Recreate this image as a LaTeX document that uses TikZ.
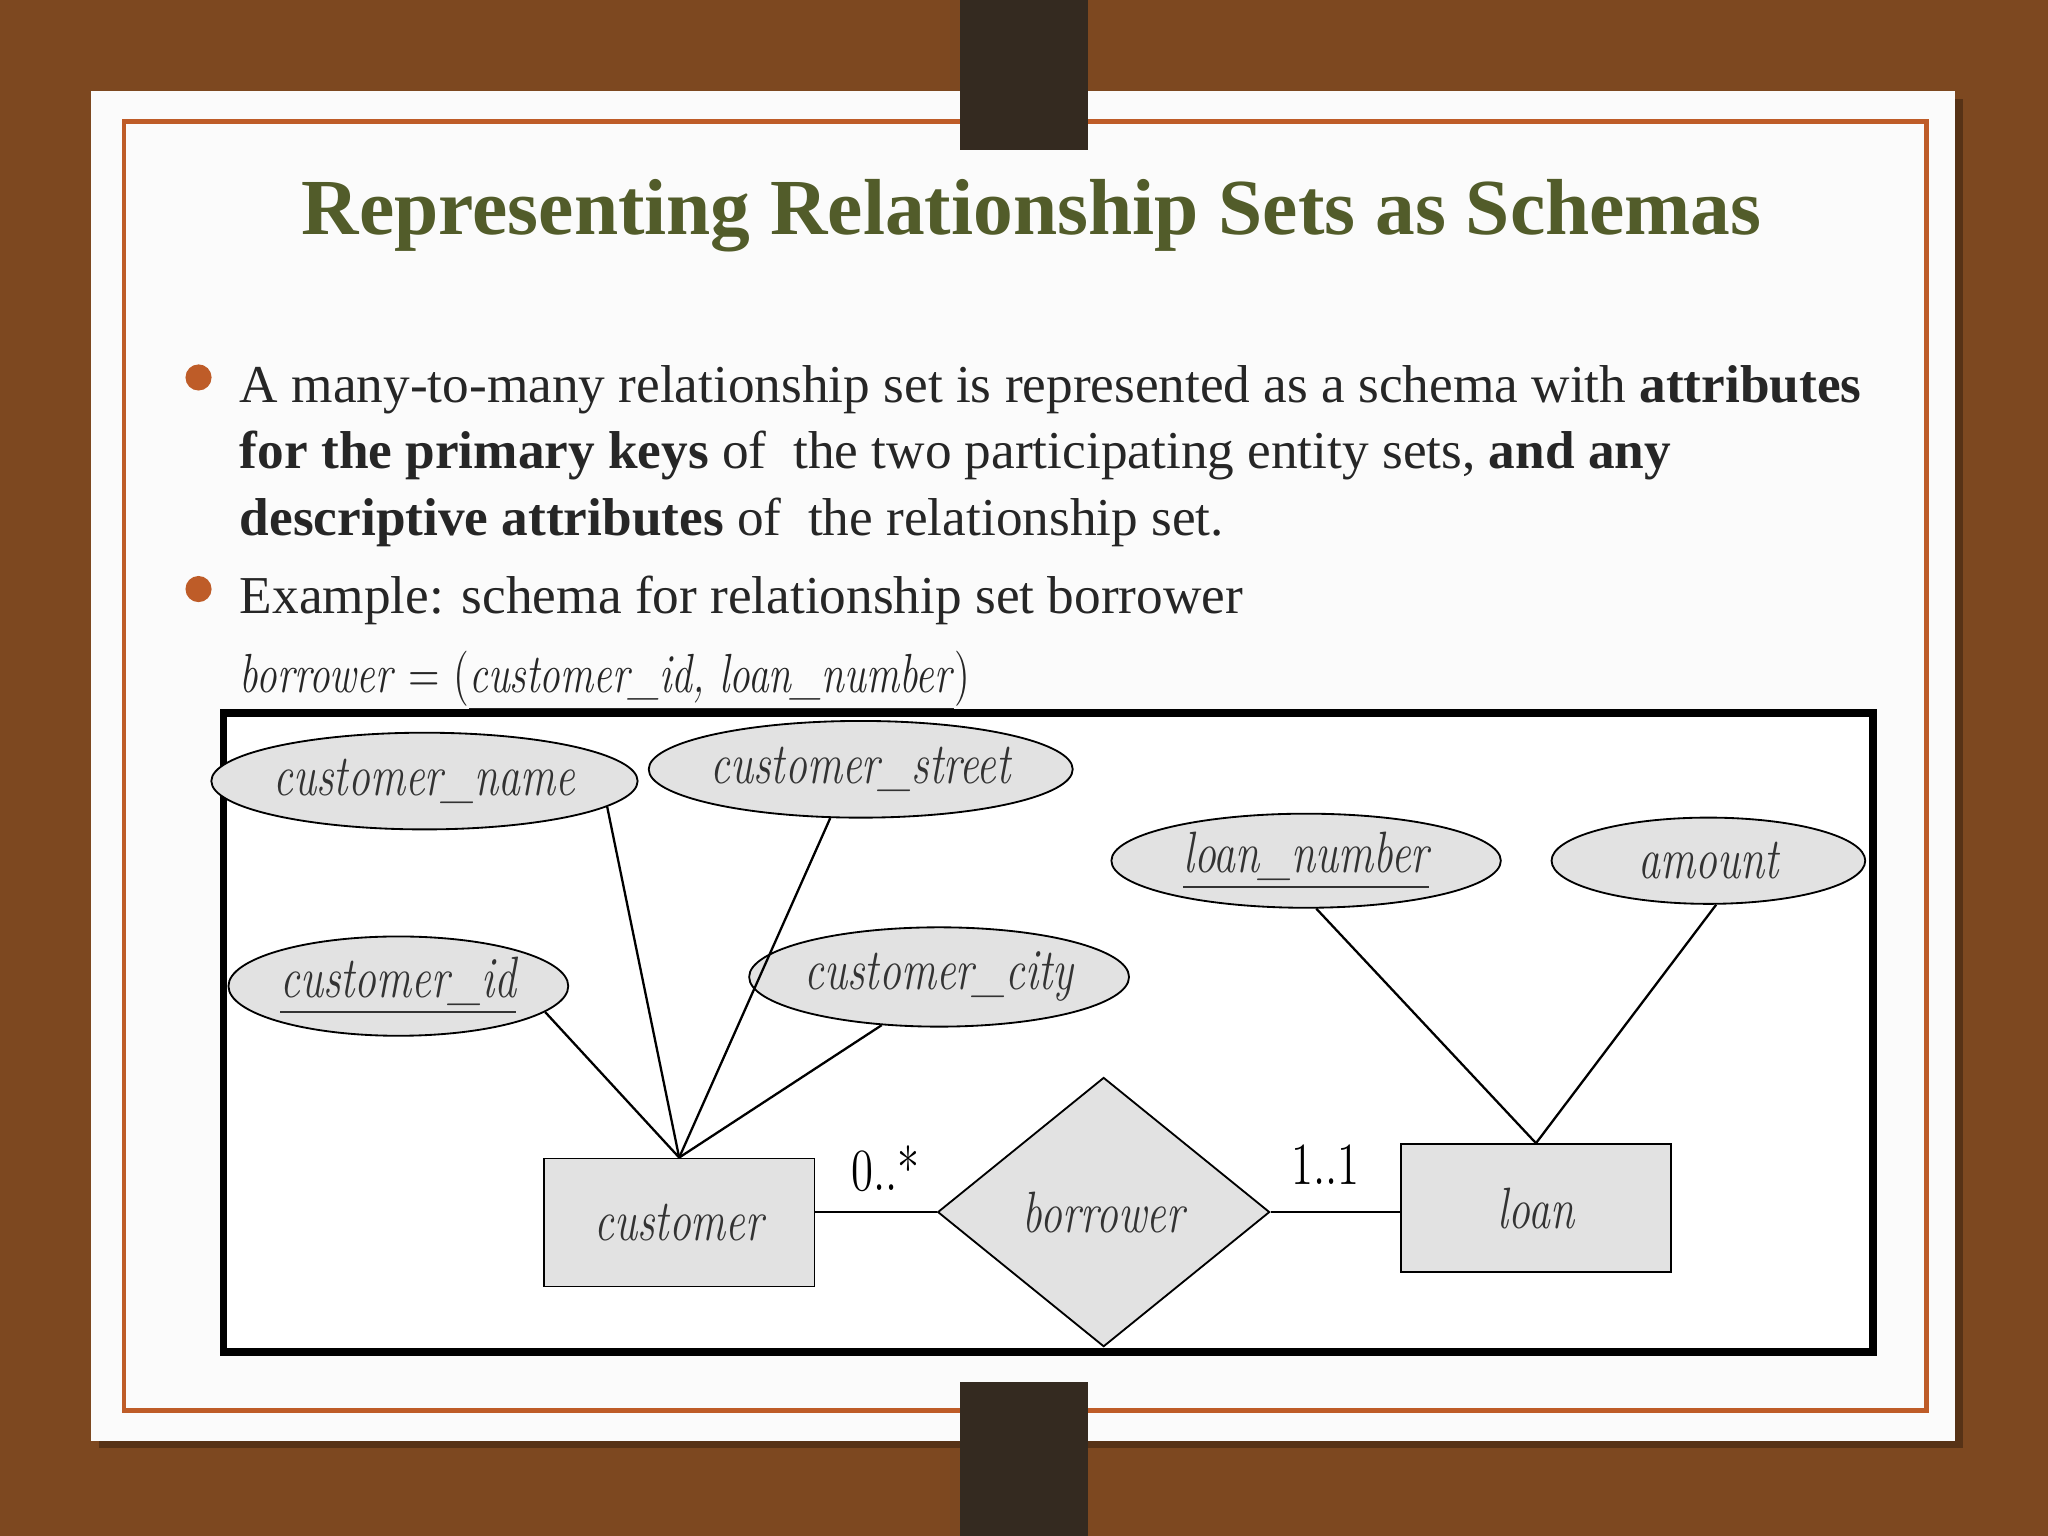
\documentclass[tikz,border=0pt]{standalone}
\usepackage{fontspec}
\setmainfont{Liberation Serif}
\usetikzlibrary{shapes.geometric}
\newfontfamily\lmcond[FakeStretch=0.75]{Latin Modern Roman}
\definecolor{wood}{RGB}{125,72,32}
\definecolor{clipcol}{RGB}{52,42,32}
\definecolor{olive}{RGB}{82,92,42}
\definecolor{rust}{RGB}{190,92,40}
\definecolor{ergray}{RGB}{226,226,226}
\tikzset{
 erfont/.style={font=\lmcond\itshape\fontsize{12.7}{12.7}\selectfont,text=black!80},
 attr/.style={ellipse,draw,fill=ergray,inner sep=0pt,erfont},
 ent/.style={rectangle,draw,fill=ergray,minimum width=2.07cm,minimum height=0.98cm,erfont},
 body/.style={anchor=base west,inner sep=0pt,font=\fontsize{11.6}{11.6}\selectfont,text=black!85},
 conn/.style={draw,line width=0.5pt}
}
\begin{document}
\begin{tikzpicture}[x=0.01cm,y=-0.01cm]
\useasboundingbox (0,0) rectangle (1568,1176);
\fill[wood] (0,0) rectangle (1568,1176);
\fill[black,opacity=0.3] (76,76) rectangle (1503,1109);
\fill[white!97!gray] (70,70) rectangle (1497,1103);
\draw[rust,line width=1pt] (95,93) rectangle (1475,1080);
\fill[clipcol] (735,0) rectangle (833,115);
\fill[clipcol] (735,1058) rectangle (833,1176);
\node[font=\bfseries\fontsize{17.3}{17.3}\selectfont,text=olive] (title) at (790,165) {Representing Relationship Sets as Schemas};
\fill[rust] (152,289) circle (0.1cm);
\fill[rust] (152,451) circle (0.1cm);
\node[body] (l1) at (183,308) {A many-to-many relationship set is represented as a schema with \textbf{attributes}};
\node[body] (l2) at (183,359) {\textbf{for the primary keys} of \ the two participating entity sets, \textbf{and any}};
\node[body] (l3) at (183,410) {\textbf{descriptive attributes} of \ the relationship set.};
\node[body] (l4) at (183,470) {Example: schema for relationship set borrower};
\node[body,font=\lmcond\fontsize{12}{12}\selectfont] (l5) at (183,530) {\textit{borrower} = (\underline{\textit{customer\_id, loan\_number}})};
\draw[line width=1.6pt,fill=white] (171,546) rectangle (1434,1035);
\node[attr,minimum width=2.54cm,minimum height=0.74cm] (cn) at (325,598) {customer\_name};
\node[attr,minimum width=2.70cm,minimum height=0.74cm] (cs) at (659,589) {customer\_street};
\node[attr,minimum width=2.98cm,minimum height=0.72cm] (ln) at (1000,659) {\underline{loan\_number}};
\node[attr,minimum width=2.40cm,minimum height=0.66cm] (am) at (1308,659) {amount};
\node[attr,minimum width=2.60cm,minimum height=0.76cm] (ci) at (305,755) {\underline{customer\_id}};
\node[attr,minimum width=2.62cm,minimum height=0.76cm] (cc) at (719,748) {customer\_city};
\node[ent] (cu) at (520,936) {customer};
\node[ent] (lo) at (1176,925) {loan};
\node[diamond,draw,fill=ergray,minimum width=2.54cm,minimum height=2.06cm,inner sep=0pt,erfont] (bo) at (845,928) {borrower};
\draw[conn] (cn.-8) -- (cu.north);
\draw[conn] (cs.-122) -- (cu.north);
\draw[conn] (ci.-10) -- (cu.north);
\draw[conn] (cc.-140) -- (cu.north);
\draw[conn] (ln.-78) -- (lo.north);
\draw[conn] (am.-80) -- (lo.north);
\draw[conn] (cu.east |- bo.west) -- (bo.west);
\draw[conn] (bo.east) -- (lo.west |- bo.east);
\node[font=\lmcond\fontsize{13}{13}\selectfont] (m1) at (678,895) {0..*};
\node[font=\lmcond\fontsize{13}{13}\selectfont] (m2) at (1015,892) {1..1};
\end{tikzpicture}
\end{document}
